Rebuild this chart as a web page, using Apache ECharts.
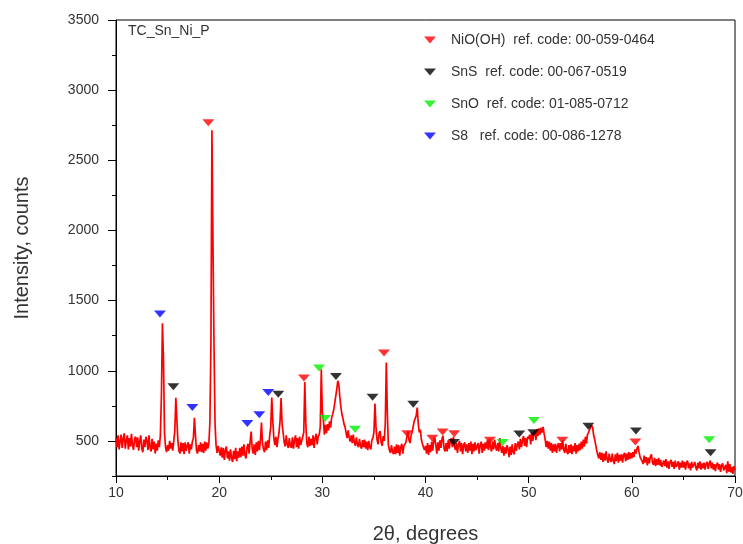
<!DOCTYPE html>
<html>
<head>
<meta charset="utf-8">
<script src="https://cdn.jsdelivr.net/npm/echarts@6/dist/echarts.min.js"></script>
<style>
html,body{margin:0;padding:0;background:#fff;}
#chart{width:743px;height:544px;}
</style>
</head>
<body>
<div id="chart"></div>
<script>
// 2θ sampling grid of the measured pattern
const twoThetaStart = 10;
const twoThetaStep = 0.1;

// Intensity (counts), 0.1° steps
const intensity_10_20 = [
520,455,540,440,500,545,450,515,555,445,
505,540,440,520,460,550,470,435,515,530,
455,525,430,500,540,445,420,510,455,530,
500,435,540,455,425,515,440,495,410,480,
430,505,455,540,815,1338,1090,560,455,420,
470,430,500,445,485,430,500,570,807,650,
500,430,410,490,425,485,405,490,430,465,
490,410,475,440,495,520,664,540,430,410,
470,425,490,420,480,415,495,430,490,445,
480,630,1190,2714,1900,1180,620,470,415,465];
const intensity_20_30 = [
470,395,455,380,450,365,435,460,375,425,
360,440,380,350,430,370,450,355,425,380,
450,385,460,395,475,400,375,455,480,410,
495,566,445,410,475,400,490,425,500,435,
505,631,480,440,420,495,435,505,450,540,
600,810,640,520,470,530,455,515,560,640,
806,620,560,490,460,540,475,450,520,465,
450,525,445,505,540,455,520,445,530,470,
460,530,560,920,620,480,455,530,465,515,
470,540,450,520,550,475,530,545,600,1010];
const intensity_30_40 = [
700,650,545,615,555,620,575,640,595,665,
690,720,770,820,870,929,900,810,740,690,
660,620,600,560,520,575,525,495,540,485,
545,490,465,525,475,455,515,465,445,505,
455,510,445,495,435,500,455,440,505,520,
560,767,600,510,475,555,570,490,465,535,
500,620,1059,700,470,435,415,470,425,405,
460,405,475,415,470,395,455,480,410,465,
460,490,530,570,505,485,540,560,600,640,
640,680,738,620,560,580,510,480,455,435];
const intensity_40_50 = [
465,410,485,400,470,420,495,430,505,524,
470,410,490,430,505,450,515,536,445,425,
485,425,505,445,495,520,455,530,465,435,
485,415,475,500,425,485,405,470,490,425,
475,415,485,430,495,405,480,425,490,435,
425,485,410,470,495,415,480,430,490,445,
505,435,515,455,425,495,440,510,455,430,
485,425,521,445,415,465,395,455,410,470,
445,385,460,400,475,420,405,485,430,475,
495,440,515,455,505,535,465,520,455,530];
const intensity_50_60 = [
515,545,475,560,500,555,575,505,585,535,
590,545,595,560,600,550,510,455,500,445,
495,430,485,415,475,425,480,415,465,485,
425,485,440,505,435,415,480,425,405,470,
415,475,405,465,425,485,410,470,425,480,
435,495,445,510,460,530,480,545,560,580,
570,610,595,540,510,470,430,400,375,420,
365,415,350,410,360,425,370,345,410,365,
350,410,360,335,405,355,415,345,400,360,
405,345,400,415,355,410,365,420,370,415];
const intensity_60_70 = [
375,420,385,440,410,445,464,420,385,370,
355,335,395,345,385,325,380,340,390,405,
345,330,380,320,370,330,380,325,365,315,
305,360,320,370,310,355,300,350,365,315,
350,300,360,315,330,355,295,345,310,360,
310,350,295,345,360,305,340,290,350,310,
300,350,310,290,345,305,355,295,340,305,
345,295,335,350,300,340,360,305,345,295,
335,285,330,345,295,335,280,325,340,290,
285,330,270,355,280,335,275,315,265,320,
290];

// Reference-pattern markers [2θ, marker height]
const nioohPeaks = [[18.95,2767],[28.22,948],[35.98,1126],[38.23,552],[40.66,519],[41.66,564],[42.79,552],[46.25,505],[53.26,505],[60.34,493]];
const snsPeaks = [[15.56,886],[25.73,833],[31.32,959],[34.87,812],[38.81,762],[42.76,488],[49.09,550],[50.45,559],[55.78,605],[60.40,571],[67.63,416]];
const snoPeaks = [[29.68,1019],[30.26,659],[33.17,583],[47.47,488],[50.51,645],[67.50,509]];
const s8Peaks = [[14.26,1405],[17.40,738],[22.73,624],[23.89,686],[24.76,845]];

const phaseNames = [
  'NiO(OH)  ref. code: 00-059-0464',
  'SnS  ref. code: 00-067-0519',
  'SnO  ref. code: 01-085-0712',
  'S8   ref. code: 00-086-1278'
];
const phaseColors = ['#ff0000', '#000000', '#00f000', '#0000ff'];

const yMajorTicks = [500,1000,1500,2000,2500,3000,3500];
const yMinorTicks = [250,750,1250,1750,2250,2750,3250];
const sampleLabel = 'TC_Sn_Ni_P';

const allIntensity = [].concat(intensity_10_20, intensity_20_30, intensity_30_40, intensity_40_50, intensity_50_60, intensity_60_70);
const patternData = allIntensity.map((v, i) => [+(twoThetaStart + i * twoThetaStep).toFixed(2), v]);

const FONT = "'Liberation Sans', Arial, sans-serif";
const TXT = '#333333';
const DOWN_TRI = 'path://M0,0L12,0L6,7Z';

const chart = echarts.init(document.getElementById('chart'), null, {renderer: 'canvas'});

const markerSeries = [nioohPeaks, snsPeaks, snoPeaks, s8Peaks].map((pts, k) => ({
  name: phaseNames[k],
  type: 'scatter',
  data: pts,
  symbol: DOWN_TRI,
  symbolSize: [12, 7],
  itemStyle: {color: phaseColors[k]},
  z: 5,
  silent: true
}));

chart.setOption({
  animation: false,
  backgroundColor: '#ffffff',
  textStyle: {fontFamily: FONT},
  grid: {left: 116, right: 8, top: 20, bottom: 68, show: true, borderColor: '#000', borderWidth: 1,
    backgroundColor: 'transparent', containLabel: false, outerBoundsMode: 'none'},
  graphic: [{
    type: 'text', left: 128, top: 24,
    style: {text: sampleLabel, fontSize: 14, fontFamily: FONT, fill: TXT}
  }],
  legend: {
    data: phaseNames.map(n => ({name: n, icon: DOWN_TRI})),
    orient: 'vertical',
    left: 419, top: 28,
    itemWidth: 12, itemHeight: 7,
    itemGap: 18,
    textStyle: {fontSize: 14, color: TXT, fontFamily: FONT, padding: [0, 0, 0, 10]},
    selectedMode: false
  },
  xAxis: {
    type: 'value', min: 10, max: 70, interval: 10,
    axisLine: {show: true, lineStyle: {color: '#000', width: 1}},
    axisTick: {show: true, length: 7, lineStyle: {color: '#000'}},
    minorTick: {show: true, splitNumber: 2, length: 4, lineStyle: {color: '#000'}},
    splitLine: {show: false},
    axisLabel: {fontSize: 14, color: TXT, margin: 10, fontFamily: FONT},
    name: '2θ, degrees', nameLocation: 'middle', nameGap: 48,
    nameTextStyle: {fontSize: 20, color: TXT, fontFamily: FONT}
  },
  yAxis: [{
    type: 'value', min: 250, max: 3500, interval: 250, position: 'left',
    axisLine: {show: true, lineStyle: {color: '#000', width: 1}},
    axisTick: {show: true, length: 8, customValues: yMajorTicks, lineStyle: {color: '#000'}},
    splitLine: {show: false},
    axisLabel: {fontSize: 14, color: TXT, margin: 17, fontFamily: FONT, customValues: yMajorTicks,
      formatter: v => String(v)},
    name: 'Intensity, counts', nameLocation: 'middle', nameGap: 84, nameRotate: 90,
    nameTextStyle: {fontSize: 20, color: TXT, fontFamily: FONT}
  }, {
    type: 'value', min: 250, max: 3500, interval: 250, position: 'left',
    axisLine: {show: false},
    axisTick: {show: true, length: 4, customValues: yMinorTicks, lineStyle: {color: '#000'}},
    splitLine: {show: false},
    axisLabel: {show: false}
  }],
  series: [{
    name: 'pattern',
    type: 'line',
    data: patternData,
    showSymbol: false,
    symbol: 'none',
    sampling: null,
    lineStyle: {color: '#ff0000', width: 1.7},
    itemStyle: {color: '#ff0000'},
    z: 2,
    silent: true
  }].concat(markerSeries)
});
</script>
</body>
</html>
